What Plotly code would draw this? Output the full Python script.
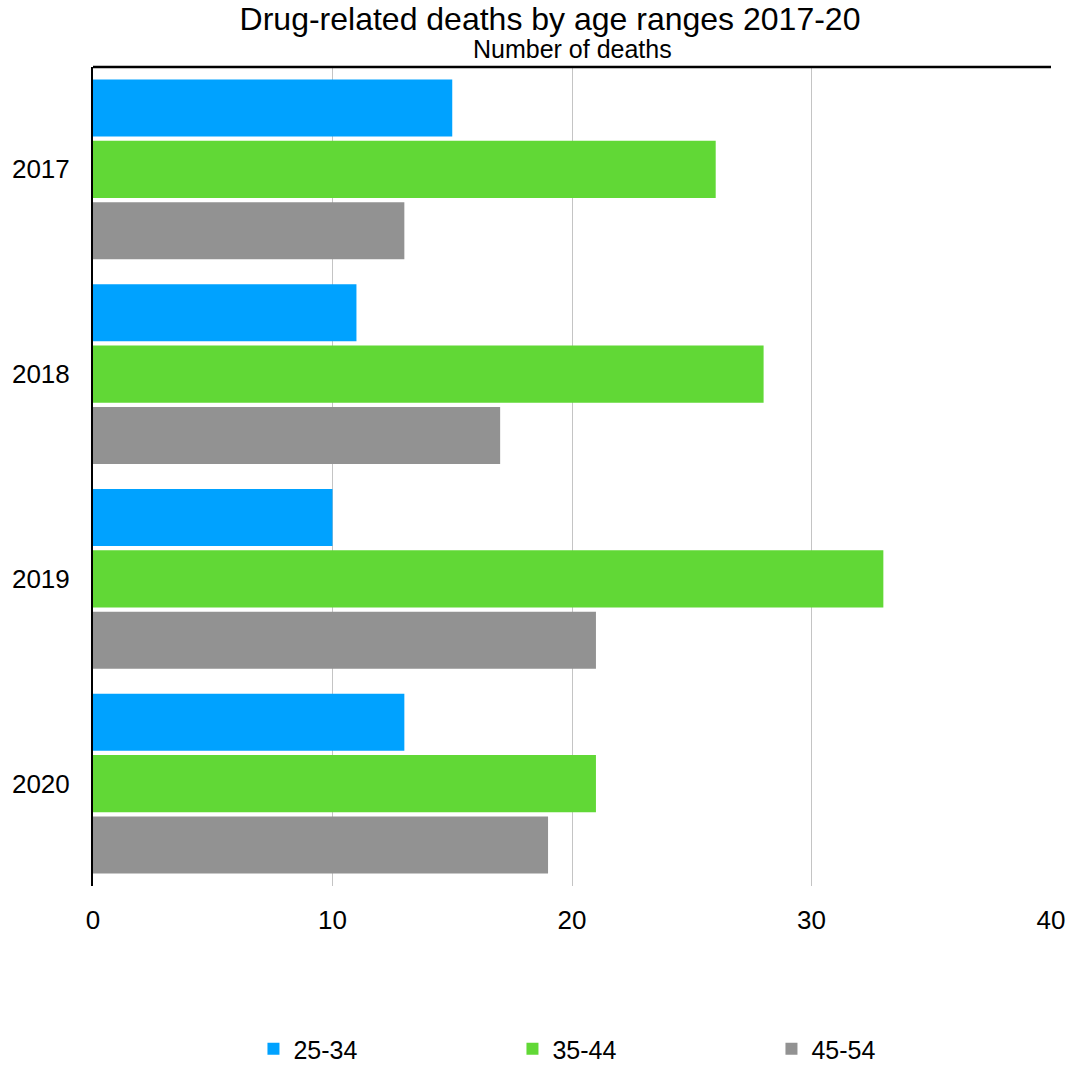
import plotly.graph_objects as go

# Drug-related deaths per year, split by age range
years = ["2017", "2018", "2019", "2020"]
age_25_34 = [15, 11, 10, 13]
age_35_44 = [26, 28, 33, 21]
age_45_54 = [13, 17, 21, 19]

series = [
    ("25-34", age_25_34, "#00A2FF"),
    ("35-44", age_35_44, "#61D836"),
    ("45-54", age_45_54, "#929292"),
]

font_family = "Liberation Sans, Arial, sans-serif"

fig = go.Figure()
for name, vals, color in series:
    fig.add_trace(go.Bar(
        y=years, x=vals, name=name, orientation="h",
        marker=dict(color=color, line=dict(width=0)),
    ))

fig.update_layout(
    width=1074, height=1072,
    margin=dict(l=93, r=23, t=67, b=186, autoexpand=False),
    paper_bgcolor="white", plot_bgcolor="white",
    barmode="group", bargap=0.1, bargroupgap=0.07,
    font=dict(family=font_family, color="black"),
    title=dict(text="Drug-related deaths by age ranges 2017-20",
               x=550 / 1074, xanchor="center", xref="container",
               y=1 - 19 / 1072, yanchor="middle",
               font=dict(family=font_family, size=32, color="black")),
    legend=dict(orientation="h", xref="container", yref="container",
                x=0.236, xanchor="left", y=0.0, yanchor="bottom",
                entrywidth=214, entrywidthmode="pixels",
                font=dict(family=font_family, size=25, color="black"),
                itemwidth=30, traceorder="normal", tracegroupgap=0),
    showlegend=True,
)

fig.update_xaxes(
    range=[0, 40], dtick=10, showgrid=True, gridcolor="#c4c4c4", gridwidth=1,
    zeroline=False, showline=False, ticks="",
    tickfont=dict(family=font_family, size=26, color="black"),
    ticklabelstandoff=16,
)
fig.update_yaxes(
    autorange="reversed", showgrid=False, zeroline=False,
    showline=True, linecolor="black", linewidth=2, ticks="",
    tickfont=dict(family=font_family, size=26, color="black"),
    ticklabelstandoff=16,
)

# Heavy frame line along the top edge of the plot area
fig.add_shape(type="line", xref="paper", yref="paper", x0=0, x1=1, y0=1, y1=1,
              line=dict(color="black", width=2.5))

fig.add_annotation(text="Number of deaths", xref="paper", yref="paper",
                   x=0.5, y=1.0, yshift=18, showarrow=False, yanchor="middle",
                   font=dict(family=font_family, size=25, color="black"))

fig.write_html("out.html")
